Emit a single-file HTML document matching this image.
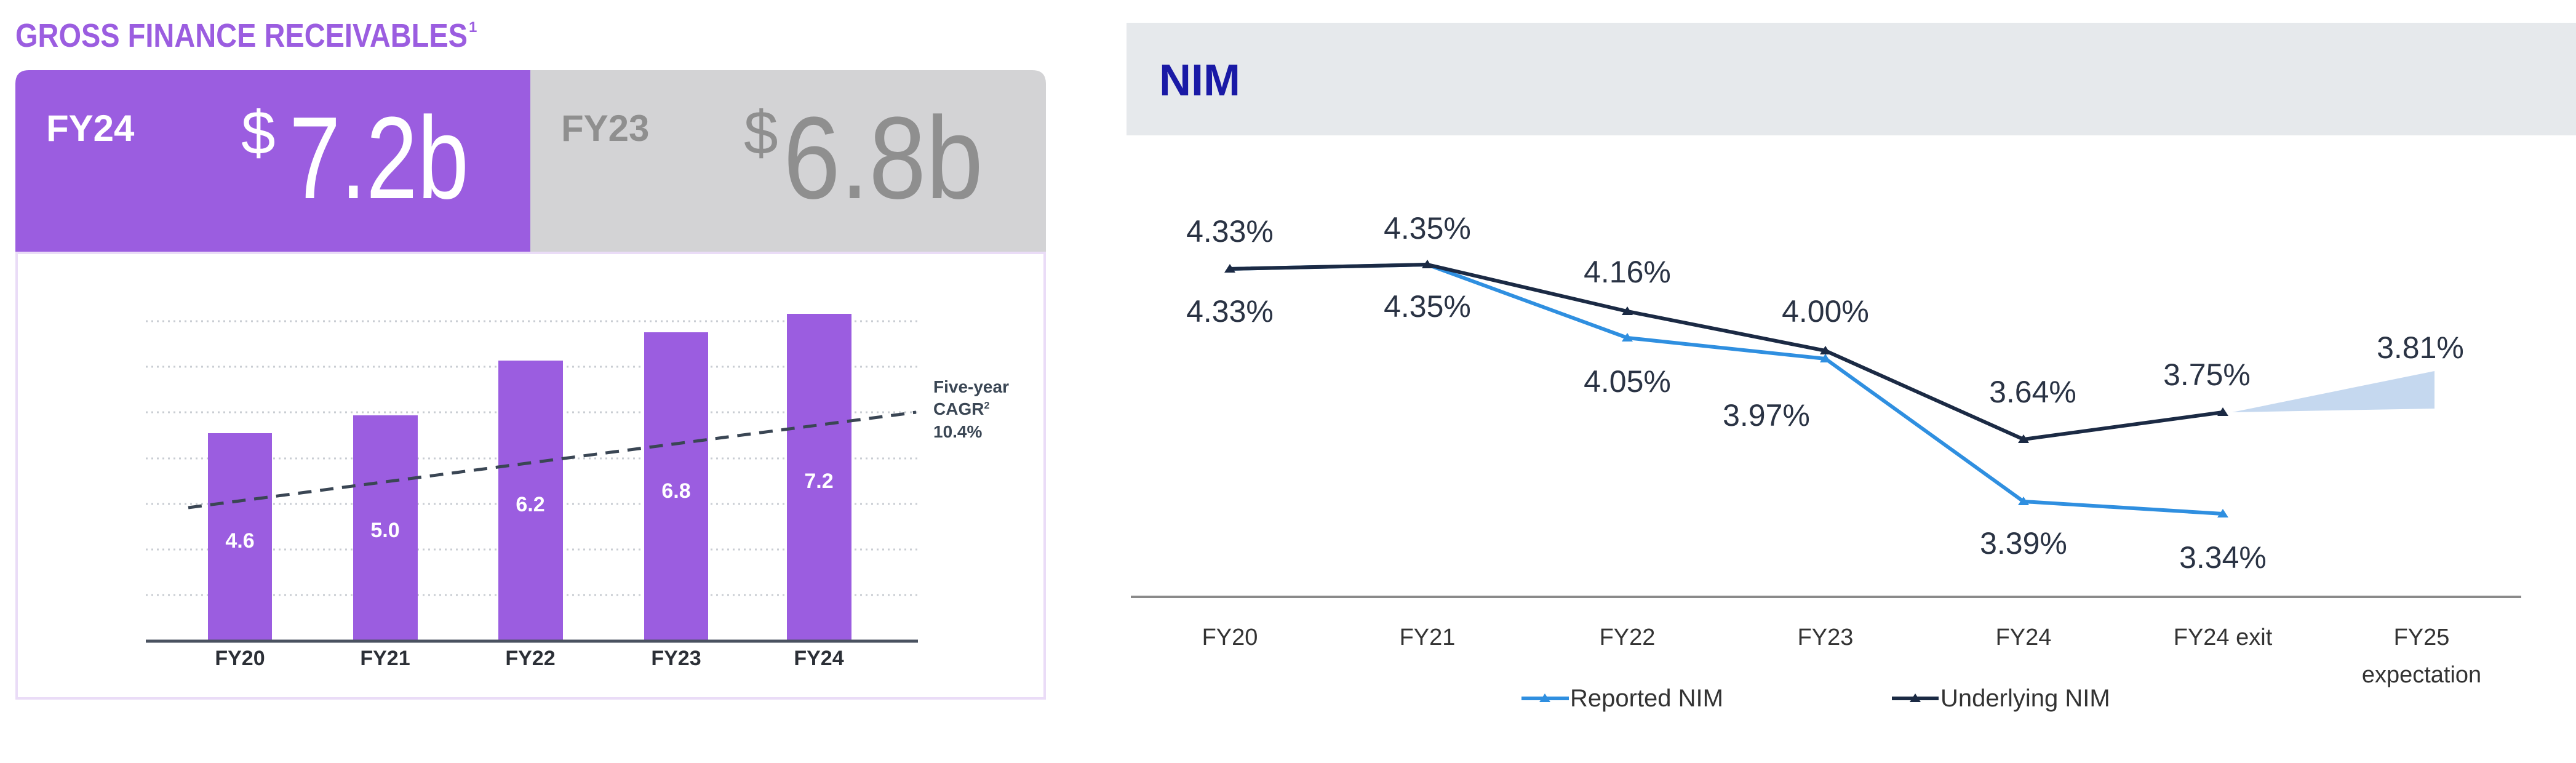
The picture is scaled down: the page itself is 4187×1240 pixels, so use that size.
<!DOCTYPE html>
<html><head><meta charset="utf-8"><style>
html,body{margin:0;padding:0;background:#fff;}
svg{display:block;font-family:"Liberation Sans",sans-serif;}
</style></head><body>
<svg width="4187" height="1240" viewBox="0 0 4187 1240" xmlns="http://www.w3.org/2000/svg">
<!-- LEFT PANEL -->
<text x="25" y="76" font-size="54" font-weight="bold" fill="#9b5de0" textLength="735" lengthAdjust="spacingAndGlyphs">GROSS FINANCE RECEIVABLES</text>
<text x="762" y="52" font-size="24" font-weight="bold" fill="#9b5de0">1</text>
<rect x="25" y="114" width="1675" height="1023" rx="22" fill="#fff"/>
<path d="M25,411 V136 Q25,114 47,114 H862 V411 Z" fill="#9b5de0"/>
<path d="M862,114 H1678 Q1700,114 1700,136 V411 H862 Z" fill="#d3d3d5"/>
<rect x="27" y="411" width="1671" height="724" fill="none" stroke="#eadcf7" stroke-width="4"/>
<text x="75" y="229" font-size="60" font-weight="bold" fill="#fff">FY24</text>
<text x="392" y="250" font-size="100" fill="#fff">$</text>
<text x="470" y="322" font-size="190" fill="#fff" textLength="292" lengthAdjust="spacingAndGlyphs">7.2b</text>
<text x="912" y="229" font-size="60" font-weight="bold" fill="#8f8f8f">FY23</text>
<text x="1209" y="250" font-size="100" fill="#8f8f8f">$</text>
<text x="1273" y="322" font-size="190" fill="#8f8f8f" textLength="325" lengthAdjust="spacingAndGlyphs">6.8b</text>
<g stroke="#c9cdd3" stroke-width="3" stroke-dasharray="3 6">
<line x1="237" y1="522" x2="1492" y2="522"/><line x1="237" y1="596" x2="1492" y2="596"/>
<line x1="237" y1="670" x2="1492" y2="670"/><line x1="237" y1="745" x2="1492" y2="745"/>
<line x1="237" y1="819" x2="1492" y2="819"/><line x1="237" y1="893" x2="1492" y2="893"/>
<line x1="237" y1="967" x2="1492" y2="967"/>
</g>
<g fill="#9b5de0">
<rect x="338" y="704" width="104" height="337"/>
<rect x="574" y="675" width="105" height="366"/>
<rect x="810" y="586" width="105" height="455"/>
<rect x="1047" y="540" width="104" height="501"/>
<rect x="1279" y="510" width="105" height="531"/>
</g>
<line x1="237" y1="1042" x2="1492" y2="1042" stroke="#4a5260" stroke-width="5"/>
<line x1="306" y1="825" x2="1489" y2="670" stroke="#3a4654" stroke-width="5" stroke-dasharray="22 14"/>
<g font-size="34" font-weight="bold" fill="#fff" text-anchor="middle">
<text x="390" y="890">4.6</text><text x="626" y="873">5.0</text><text x="862" y="831">6.2</text>
<text x="1099" y="809">6.8</text><text x="1331" y="793">7.2</text>
</g>
<g font-size="34" font-weight="bold" fill="#2b2f36" text-anchor="middle">
<text x="390" y="1081">FY20</text><text x="626" y="1081">FY21</text><text x="862" y="1081">FY22</text>
<text x="1099" y="1081">FY23</text><text x="1331" y="1081">FY24</text>
</g>
<g font-size="28" font-weight="bold" fill="#3a4654">
<text x="1517" y="638">Five-year</text><text x="1517" y="674">CAGR<tspan font-size="16" dy="-10">2</tspan></text><text x="1517" y="711">10.4%</text>
</g>
<!-- RIGHT PANEL -->
<rect x="1831" y="37" width="2356" height="183" fill="#e6e9ec"/>
<text x="1884" y="155" font-size="72" font-weight="bold" fill="#1a1aa6">NIM</text>
<line x1="1838" y1="970" x2="4098" y2="970" stroke="#8a8a8a" stroke-width="4"/>
<polygon points="3628,670 3957,603 3957,664" fill="#c5d8ef"/>
<polyline points="1999,437 2320,430 2645,549 2967,583 3289,815 3613,835" fill="none" stroke="#2f8fe0" stroke-width="6"/>
<polyline points="1999,437 2320,430 2645,506 2967,570 3289,714 3613,670" fill="none" stroke="#1b2a44" stroke-width="6"/>
<g fill="#2f8fe0">
<path d="M2645,541 l-9,14 h18z"/><path d="M2967,575 l-9,14 h18z"/><path d="M3289,807 l-9,14 h18z"/><path d="M3613,827 l-9,14 h18z"/>
</g>
<g fill="#1b2a44">
<path d="M1999,429 l-9,14 h18z"/><path d="M2320,422 l-9,14 h18z"/><path d="M2645,498 l-9,14 h18z"/><path d="M2967,562 l-9,14 h18z"/><path d="M3289,706 l-9,14 h18z"/><path d="M3613,662 l-9,14 h18z"/>
</g>
<g font-size="50" fill="#2a3344" text-anchor="middle">
<text x="1999" y="393">4.33%</text><text x="1999" y="523">4.33%</text>
<text x="2320" y="388">4.35%</text><text x="2320" y="515">4.35%</text>
<text x="2645" y="459">4.16%</text><text x="2645" y="637">4.05%</text>
<text x="2967" y="523">4.00%</text><text x="2871" y="692">3.97%</text>
<text x="3304" y="654">3.64%</text><text x="3289" y="900">3.39%</text>
<text x="3587" y="626">3.75%</text><text x="3613" y="923">3.34%</text>
<text x="3934" y="582">3.81%</text>
</g>
<g font-size="38" fill="#333" text-anchor="middle">
<text x="1999" y="1048">FY20</text><text x="2320" y="1048">FY21</text><text x="2645" y="1048">FY22</text>
<text x="2967" y="1048">FY23</text><text x="3289" y="1048">FY24</text><text x="3613" y="1048">FY24 exit</text>
<text x="3936" y="1048">FY25</text><text x="3936" y="1109">expectation</text>
</g>
<line x1="2473" y1="1135" x2="2550" y2="1135" stroke="#2f8fe0" stroke-width="6"/>
<path d="M2511,1127 l-9,14 h18z" fill="#2f8fe0"/>
<text x="2552" y="1148" font-size="40" fill="#333">Reported NIM</text>
<line x1="3075" y1="1135" x2="3151" y2="1135" stroke="#1b2a44" stroke-width="6"/>
<path d="M3113,1127 l-9,14 h18z" fill="#1b2a44"/>
<text x="3154" y="1148" font-size="40" fill="#333">Underlying NIM</text>
</svg>
</body></html>
